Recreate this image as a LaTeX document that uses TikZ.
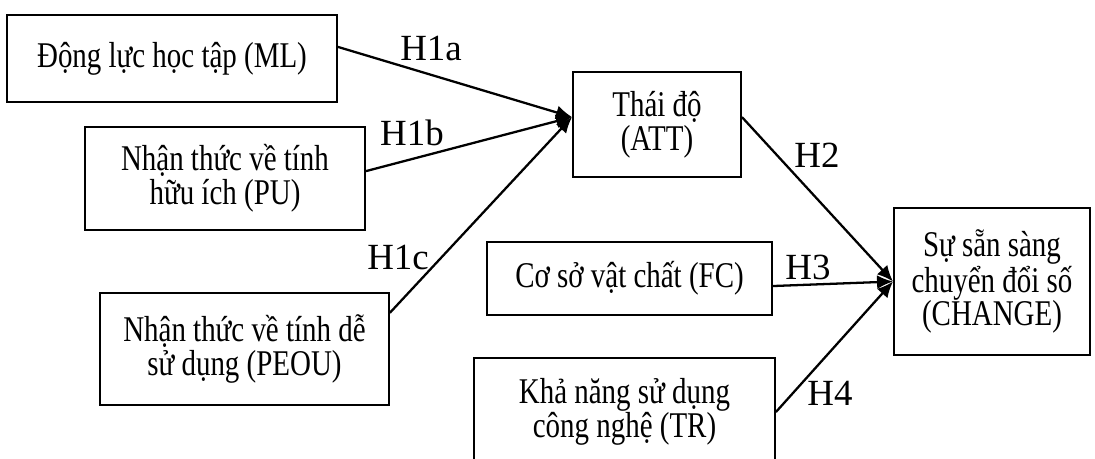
\documentclass[tikz,border=0pt]{standalone}
\usepackage{fontspec}
\setmainfont{Liberation Serif}
\newfontfamily\tallfont[FakeStretch=0.8]{Liberation Serif}
\usetikzlibrary{arrows.meta}

\begin{document}
\begin{tikzpicture}[x=0.02cm, y=-0.02cm,
    box/.style={draw, line width=1.1pt, align=center, inner sep=0pt, font=\tallfont\fontsize{20.6}{19.3}\selectfont},
    hyp/.style={font=\fontsize{21}{22}\selectfont, inner sep=0pt},
    link/.style={-{Latex[length=0.32cm, width=0.28cm]}, line width=1.3pt}]
    \path[use as bounding box, fill=white] (0,0) rectangle (1095,458);
    \node[box, minimum width=6.6cm, minimum height=1.74cm] (ML) at (172,58.5) {Động lực học tập (ML)};
    \node[box, minimum width=5.6cm, minimum height=2.06cm] (PU) at (225,178.5) {Nhận thức về tính\\hữu ích (PU)};
    \node[box, minimum width=5.78cm, minimum height=2.24cm] (PEOU) at (244.5,349) {Nhận thức về tính dễ\\sử dụng (PEOU)};
    \node[box, minimum width=3.36cm, minimum height=2.1cm] (ATT) at (657,124.5) {Thái độ\\(ATT)};
    \node[box, minimum width=5.7cm, minimum height=1.46cm] (FC) at (629.5,278.5) {Cơ sở vật chất (FC)};
    \node[box, minimum width=6.02cm, minimum height=2.16cm] (TR) at (624.5,412) {Khả năng sử dụng\\công nghệ (TR)};
    \node[box, minimum width=3.92cm, minimum height=2.94cm] (CHANGE) at (992,281.5) {Sự sẵn sàng\\chuyển đổi số\\(CHANGE)};
    \node[hyp] (lH1a) at (431,48) {H1a};
    \node[hyp] (lH1b) at (412,133) {H1b};
    \node[hyp] (lH1c) at (398,257) {H1c};
    \node[hyp] (lH2) at (817,155) {H2};
    \node[hyp] (lH3) at (808,267) {H3};
    \node[hyp] (lH4) at (830,393) {H4};
    \draw[link] (ML.4) -- (ATT.175);
    \draw[link] (PU.3) -- (ATT.175);
    \draw[link] (PEOU.14) -- (ATT.175);
    \draw[link] (ATT.5) -- (CHANGE.west);
    \draw[link] (FC.-3) -- (CHANGE.west);
    \draw[link] (TR.east) -- (CHANGE.west);
\end{tikzpicture}
\end{document}
